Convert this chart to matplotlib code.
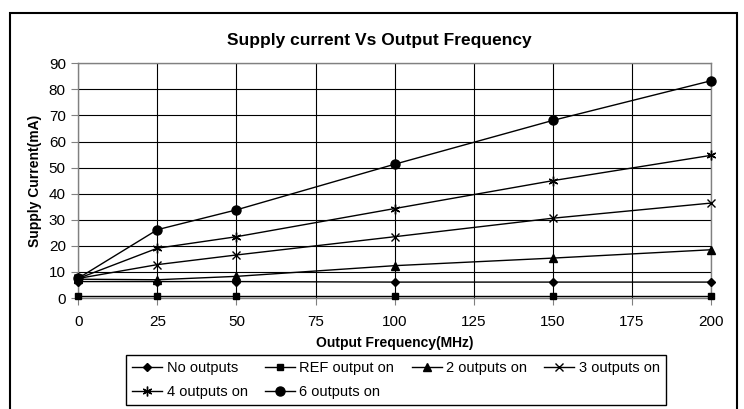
import numpy as np
import matplotlib.pyplot as plt
from matplotlib.patches import Rectangle

plt.rcParams['font.family'] = ['Liberation Sans', 'DejaVu Sans']

freq_mhz = [0, 25, 50, 100, 150, 200]
no_outputs = [6.3, 6.3, 6.3, 6.1, 6.1, 6.1]
ref_output_on = [0.9, 0.9, 0.9, 0.9, 0.9, 0.9]
outputs_2 = [7.2, 7.0, 8.3, 12.4, 15.3, 18.5]
outputs_3 = [7.5, 12.8, 16.5, 23.5, 30.6, 36.4]
outputs_4 = [7.5, 19.1, 23.5, 34.3, 45.0, 54.7]
outputs_6 = [7.6, 26.2, 33.8, 51.3, 68.1, 83.3]

labels = ['No outputs', 'REF output on', '2 outputs on', '3 outputs on',
          '4 outputs on', '6 outputs on']
series = [no_outputs, ref_output_on, outputs_2, outputs_3, outputs_4, outputs_6]
markers = ['D', 's', '^', 'x', (6, 2, 0), 'o']
msizes = [4.5, 5, 5.5, 6, 7, 6.5]

fig = plt.figure(figsize=(7.44, 4.09), dpi=100)
fig.patches.append(Rectangle((10 / 744, -0.1), 727 / 744, 1.1 - 13 / 409,
                             transform=fig.transFigure, fill=False,
                             edgecolor='black', linewidth=1.5))

ax = fig.add_axes([78.3 / 744, 1 - 298 / 409, 632.7 / 744, 234.7 / 409])

lines = []
for y, lab, m, ms in zip(series, labels, markers, msizes):
    ln, = ax.plot(freq_mhz, y, color='black', linewidth=1.0, marker=m,
                  markersize=ms, markeredgewidth=1.0, label=lab, clip_on=False,
                  zorder=3)
    lines.append(ln)

ax.set_xlim(0, 200)
ax.set_ylim(0, 90)
ax.set_xticks(np.arange(0, 201, 25))
ax.set_yticks(np.arange(0, 91, 10))
ax.grid(True, color='black', linewidth=0.8)
ax.set_axisbelow(True)
for sp in ax.spines.values():
    sp.set_color('#808080')
    sp.set_linewidth(1.0)
ax.tick_params(axis='both', labelsize=11, length=5, width=0.8,
               color='#808080', direction='out')
ax.tick_params(axis='x', pad=7)
ax.tick_params(axis='y', pad=4)

# Titel ist auf den Rahmen zentriert, nicht auf die Achse
fig.text(379 / 744, 1 - 40 / 409, 'Supply current Vs Output Frequency',
         fontsize=12.5, fontweight='bold', ha='center', va='center')
ax.set_xlabel('Output Frequency(MHz)', fontsize=10, fontweight='bold',
              labelpad=5)
ax.set_ylabel('Supply Current(mA)', fontsize=10, fontweight='bold',
              labelpad=5)

order = [0, 4, 1, 5, 2, 3]
leg = fig.legend([lines[i] for i in order], [labels[i] for i in order],
                 loc='upper center', bbox_to_anchor=(396 / 744, 1 - 355 / 409),
                 ncol=4, fontsize=10.5, frameon=True, fancybox=False,
                 edgecolor='black', framealpha=1, handlelength=2.05,
                 handletextpad=0.3, columnspacing=1.2, labelspacing=0.7,
                 borderpad=0.4, borderaxespad=0)
leg.get_frame().set_linewidth(1.0)

fig.savefig('out.png', dpi=100)
